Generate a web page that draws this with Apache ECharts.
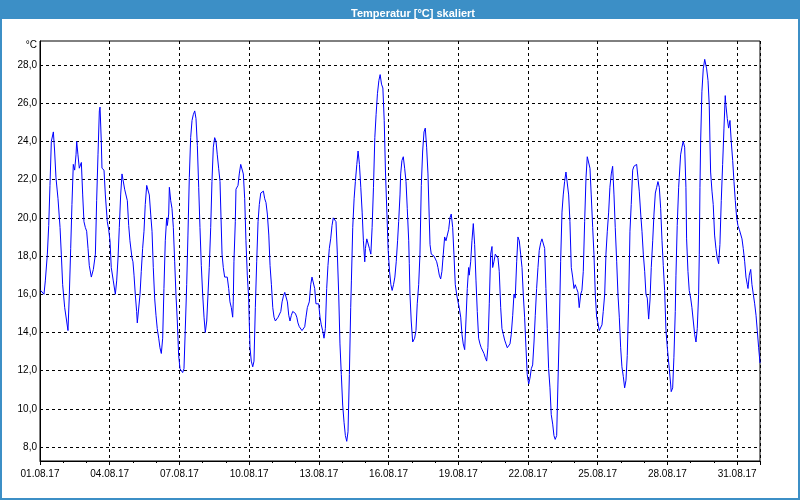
<!DOCTYPE html>
<html><head><meta charset="utf-8">
<script src="https://cdn.jsdelivr.net/npm/echarts@6/dist/echarts.min.js"></script>
<style>html,body{margin:0;padding:0;background:#fff}#c{width:800px;height:500px}</style>
</head><body><div id="c"></div>
<script>
// hours since 01.08.17 00:00
const hours = [
0.7,4.1,5.5,7.6,9.0,10.3,11.7,13.8,15.1,16.5,18.6,20.7,22.0,23.4,25.5,27.5,28.9,30.3,31.7,33.0,34.4,35.8,37.2,37.9,39.2,40.6,42.7,44.1,45.4,46.8,48.2,49.6,50.9,53.0,55.1,57.2,58.5,59.9,61.3,62.0,63.3,64.0,66.1,67.5,69.5,70.9,72.3,73.6,75.7,77.8,79.2,80.6,81.9,83.3,84.7,86.0,87.4,88.8,90.2,91.6,92.9,95.0,96.0,
97.1,98.4,99.8,100.5,101.9,103.3,104.6,106.0,107.4,108.7,110.2,111.5,112.9,114.3,115.7,117.0,118.4,119.8,121.1,122.6,123.9,125.3,126.7,128.0,129.4,130.8,131.5,132.9,133.6,135.0,136.3,137.7,139.1,140.4,141.8,143.2,144.6,145.9,147.3,148.7,150.0,151.5,152.8,154.2,155.6,157.0,158.3,159.8,161.1,162.5,163.9,165.2,166.6,168.0,169.4,170.7,172.2,173.5,174.8,176.3,177.6,179.0,180.4,181.8,183.1,184.5,185.9,
188.0,189.3,190.7,192.1,193.4,194.9,196.2,197.6,199.0,199.6,200.3,201.7,202.4,204.5,205.8,207.3,208.6,210.0,211.4,212.7,214.1,215.5,216.1,216.9,218.2,219.7,221.0,222.4,223.8,225.2,226.5,228.0,229.3,230.7,232.1,233.4,234.8,236.3,237.6,239.0,240.4,241.7,243.1,244.6,245.9,247.3,248.7,250.0,251.4,252.8,254.1,255.5,256.9,258.2,259.6,261.0,262.4,263.7,265.2,266.4,267.8,269.3,270.6,272.0,273.4,274.7,276.1,
278.1,279.6,280.9,282.2,283.7,285.0,286.4,287.8,289.2,290.5,291.9,293.3,294.7,296.1,297.4,298.8,300.2,301.6,302.9,304.3,305.7,307.1,308.5,309.8,311.2,312.6,314.0,315.4,316.8,318.1,319.5,320.9,321.6,323.0,324.4,325.7,327.2,328.5,329.9,331.3,332.7,334.0,335.4,336.1,337.5,338.9,340.2,341.7,343.0,344.4,345.8,347.1,348.5,350.0,351.3,352.7,354.1,355.5,356.8,358.3,359.6,361.0,362.4,363.7,365.1,366.5,367.9,369.3,
370.4,371.8,372.5,373.8,375.2,376.6,378.0,379.3,380.8,381.4,382.1,383.4,384.9,385.5,386.9,388.3,389.6,391.1,392.4,393.8,395.2,396.6,397.9,399.3,400.7,402.0,402.8,404.1,405.5,406.9,408.2,409.7,411.0,412.4,413.8,415.1,416.5,417.9,419.3,420.6,422.1,423.4,424.7,426.2,427.5,428.9,430.3,431.7,433.0,434.5,435.8,437.1,438.6,439.9,441.3,442.7,443.3,444.8,446.1,447.5,448.9,450.3,451.6,453.0,454.4,455.7,457.2,458.5,459.8,461.3,462.6,
464.0,465.4,466.8,467.5,468.8,470.2,471.6,473.0,474.3,475.8,477.1,478.5,479.9,481.2,482.6,484.0,485.4,486.7,488.2,489.5,490.8,492.3,493.6,495.0,496.4,497.8,499.1,500.5,501.9,503.2,504.7,506.0,507.4,508.8,510.2,511.5,512.9,514.3,515.6,517.1,518.4,519.8,521.2,522.5,523.9,525.3,526.7,528.0,529.5,530.8,532.1,533.6,534.9,536.3,537.7,539.1,540.4,541.8,543.2,544.5,546.0,547.3,548.7,550.1,551.5,552.8,554.2,555.6,
556.9,558.4,559.7,561.1,562.5,563.9,565.2,566.6,568.0,569.3,570.8,572.1,573.5,574.9,576.2,577.6,579.0,580.4,581.7,583.2,584.5,585.9,587.3,588.6,590.0,591.4,592.8,594.1,595.6,596.9,598.3,599.7,601.0,602.4,603.8,605.2,606.5,607.9,609.3,610.6,612.1,613.4,614.8,616.2,617.6,618.9,620.4,621.7,623.1,624.5,625.8,627.2,628.6,630.0,631.3,632.8,634.1,635.5,636.9,638.2,639.6,641.0,642.4,643.7,645.1,646.5,647.9,
649.9,651.3,651.9,653.4,654.7,656.1,656.8,658.1,659.6,660.2,661.6,663.0,664.3,665.8,667.1,667.8,669.2,670.5,672.0,673.3,674.7,676.1,677.5,678.8,680.2,680.9,681.6,682.3,683.6,685.0,686.5,687.1,688.5,689.9,691.2,691.9,692.6,694.0,695.3,696.7,698.1,699.4,700.9,702.2,703.6,705.0,706.4,707.7,708.4,709.8,711.2,712.6,713.9,715.4,716.7,718.1,719.5,720.8,722.2,723.6,725.0,726.3,727.8,729.1,730.5,731.2,732.5,734.0,735.3,736.7,738.1,739.5,740.8,742.2,743.6
];
const temps = [
16.2,16.0,16.7,18.1,19.6,21.7,24.0,24.5,23.5,22.1,21.0,19.5,18.1,16.5,15.3,14.6,14.1,16.0,18.4,20.7,22.8,22.5,23.3,24.0,23.3,22.6,22.9,21.2,19.8,19.5,19.3,18.4,17.5,16.9,17.3,18.1,20.9,23.3,25.6,25.8,24.0,22.6,22.5,21.2,19.8,19.4,18.8,17.4,16.7,16.0,16.7,17.9,19.5,21.2,22.3,22.2,21.5,21.6,20.9,19.6,18.8,17.9,17.7,
17.0,16.0,15.1,14.5,14.6,16.0,17.2,18.4,19.3,20.7,21.7,21.8,21.2,20.2,19.3,17.4,15.8,14.9,14.2,13.7,13.2,12.9,13.7,16.3,18.8,20.0,19.6,20.2,21.6,20.9,20.5,19.5,17.7,16.0,14.6,12.8,12.1,12.0,11.9,12.1,14.1,16.5,19.1,22.1,24.2,25.1,25.4,25.6,25.2,23.8,21.6,19.5,17.5,16.0,14.8,14.0,14.6,16.0,17.4,19.5,21.9,23.7,24.2,24.0,23.3,22.6,21.9,
18.1,17.4,16.9,17.0,16.9,16.3,15.6,15.3,14.8,15.6,17.7,19.8,21.5,21.7,22.3,22.8,22.9,22.3,21.0,18.8,17.0,15.8,14.6,13.2,12.5,12.2,12.5,15.3,17.7,19.8,20.7,21.3,21.4,21.4,21.0,20.8,20.2,19.1,17.5,16.5,15.3,14.8,14.6,14.6,14.8,14.9,15.1,15.6,15.9,16.1,16.2,15.6,14.9,14.6,14.9,15.1,15.2,15.0,14.8,14.5,14.3,14.2,14.1,14.2,14.3,14.8,15.3,
15.6,16.5,16.9,17.0,16.3,15.5,15.6,15.5,14.8,14.4,14.1,13.7,14.2,16.3,17.5,18.4,18.9,19.6,20.0,20.1,19.8,18.1,16.0,13.4,11.8,10.2,9.3,8.6,8.3,8.8,11.8,15.3,16.7,19.5,21.0,21.9,22.8,23.5,22.8,21.6,20.3,18.8,17.7,18.4,18.9,18.8,18.4,18.1,19.5,21.6,24.2,25.4,26.5,27.2,27.5,27.0,26.8,25.1,22.4,20.2,18.3,17.2,16.5,16.2,16.5,16.9,17.7,18.8,
19.8,21.2,22.3,23.0,23.2,22.6,21.9,20.5,18.8,17.6,16.0,14.6,13.5,13.4,13.7,14.1,15.5,16.5,18.1,21.7,23.5,24.5,24.7,23.7,22.3,20.0,18.6,18.1,18.1,18.0,18.0,17.7,17.4,17.0,16.8,17.2,18.1,19.0,18.8,18.7,19.4,20.0,20.2,19.5,18.1,16.5,16.0,15.6,15.3,14.8,13.9,13.4,13.1,14.6,16.3,17.4,17.0,17.7,18.8,19.7,18.6,16.7,15.1,13.7,13.4,13.2,13.1,12.9,12.7,12.5,13.2,
15.5,18.1,18.5,17.4,17.7,18.1,18.2,17.9,17.2,15.3,14.2,13.9,13.6,13.4,13.2,13.1,13.4,13.9,14.9,16.0,15.8,17.7,19.0,18.8,18.1,17.4,16.0,14.8,13.2,11.8,11.3,11.6,12.1,12.3,13.5,14.9,16.3,17.4,18.3,18.7,18.9,19.0,18.4,16.3,14.2,12.1,11.1,9.7,9.2,8.6,8.4,8.6,11.3,14.1,17.7,20.3,21.2,21.9,22.4,22.5,21.2,19.8,17.4,16.9,16.3,16.5,16.3,16.1,
15.3,16.0,16.2,17.2,19.8,22.1,23.2,23.1,22.6,21.2,19.5,18.1,16.0,14.8,14.5,14.1,14.1,14.4,15.1,16.0,18.1,19.3,20.3,21.6,22.3,22.7,21.2,19.5,17.7,16.0,14.8,13.2,12.2,11.7,11.1,11.5,12.8,15.5,19.3,20.7,22.5,22.7,22.8,22.8,22.1,21.4,20.2,19.3,18.1,17.2,16.0,15.8,14.7,15.7,17.4,18.8,20.2,21.3,21.6,21.9,21.6,20.5,18.8,17.5,16.2,14.1,13.2,
12.1,11.3,10.9,11.1,12.7,15.1,17.0,19.6,21.6,22.1,23.3,23.7,24.0,23.7,21.6,18.9,17.2,16.2,15.8,15.3,14.6,13.9,13.5,14.2,16.0,18.1,21.6,24.0,26.6,27.8,28.3,28.3,27.8,27.2,25.9,24.0,22.4,21.4,20.7,19.1,18.4,17.9,17.6,18.6,20.9,22.8,24.7,26.4,25.9,25.2,24.7,25.1,24.0,23.0,21.9,20.9,20.0,19.6,19.4,19.3,18.9,18.4,17.7,16.9,16.5,16.3,17.0,17.3,16.5,16.0,15.5,14.9,14.1,13.2,12.4
];
const xTickLabels = ['01.08.17','04.08.17','07.08.17','10.08.17','13.08.17','16.08.17','19.08.17','22.08.17','25.08.17','28.08.17','31.08.17'];
const yTickValues = [8,10,12,14,16,18,20,22,24,26,28];

const data = hours.map((h, i) => [h, temps[i]]);
const chart = echarts.init(document.getElementById('c'), null, {renderer: 'canvas'});
const FONT = 'Liberation Sans, Arial, sans-serif';
const BLUE = '#3c8fc6';
chart.setOption({
  animation: false,
  backgroundColor: '#fff',
  title: {
    text: 'Temperatur [°C] skaliert',
    left: 408, top: 3, textAlign: 'center',
    textStyle: {color: '#fff', fontWeight: 'bold', fontSize: 11, fontFamily: FONT}
  },
  graphic: [
    {type: 'rect', z: 0, shape: {x: 0, y: 0, width: 800, height: 19}, style: {fill: BLUE}},
    {type: 'rect', z: 0, shape: {x: 1, y: 1, width: 798, height: 498}, style: {fill: 'none', stroke: BLUE, lineWidth: 2}},
    {type: 'text', z: 10, style: {text: '°C', x: 37, y: 45, align: 'right', verticalAlign: 'middle', fill: '#000', font: '10px ' + FONT}}
  ],
  grid: {left: 40, right: 40, top: 41, bottom: 39, show: true, borderColor: '#000', borderWidth: 1, backgroundColor: '#fff'},
  xAxis: {
    type: 'value', min: 0, max: 743.6, interval: 72,
    axisLine: {show: true, lineStyle: {color: '#000', width: 1}},
    axisTick: {show: true, length: 4, lineStyle: {color: '#000'}},
    minorTick: {show: true, splitNumber: 3, length: 2, lineStyle: {color: '#000'}},
    axisLabel: {
      showMaxLabel: false, margin: 8, color: '#000', fontSize: 10, fontFamily: FONT,
      formatter: v => { const i = Math.round(v / 72); return Math.abs(v - i * 72) < 1e-6 ? (xTickLabels[i] || '') : ''; }
    },
    splitLine: {show: true, lineStyle: {color: '#000', width: 1, type: [3, 3]}}
  },
  yAxis: {
    type: 'value', min: 7.27, max: 29.26,
    axisLine: {show: true, lineStyle: {color: '#000', width: 1}},
    axisTick: {show: false, customValues: yTickValues},
    axisLabel: {customValues: yTickValues, margin: 3, color: '#000', fontSize: 10, fontFamily: FONT,
      formatter: v => v.toFixed(1).replace('.', ',')},
    splitLine: {show: true, lineStyle: {color: '#000', width: 1, type: [3, 3]}}
  },
  series: [{
    type: 'line', data: data, showSymbol: false, symbol: 'none',
    lineStyle: {color: '#0000ff', width: 1}, itemStyle: {color: '#0000ff'}, silent: true
  }]
});
</script>
</body></html>
